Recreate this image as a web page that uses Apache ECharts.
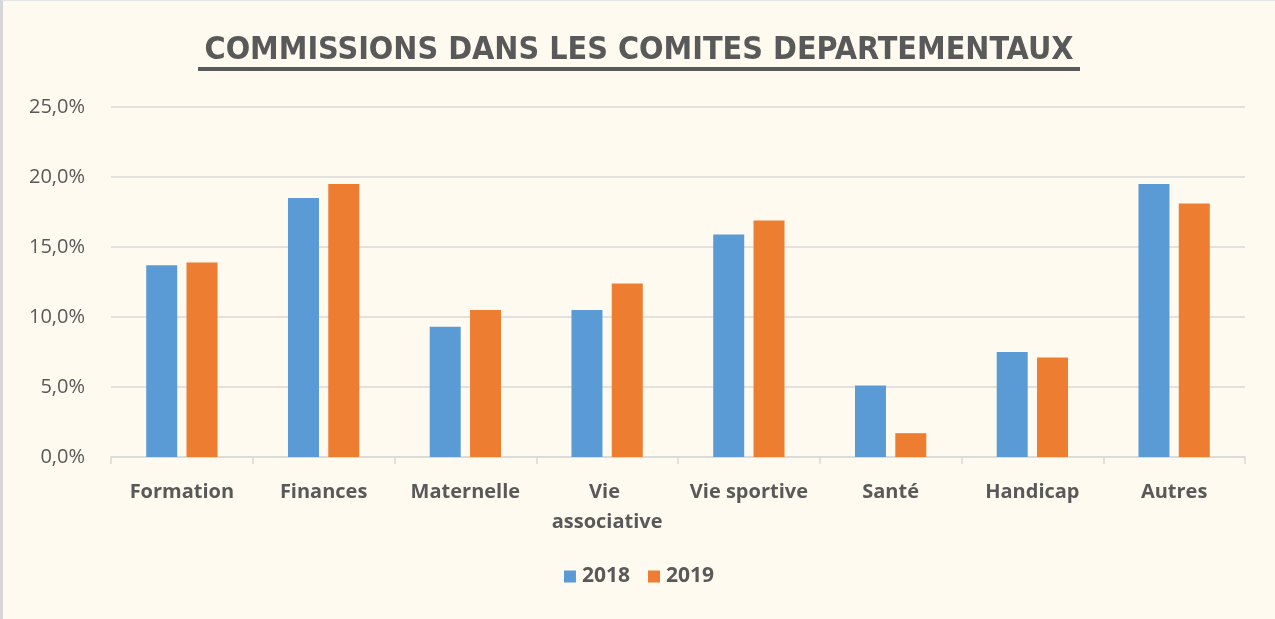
<!DOCTYPE html>
<html>
<head>
<meta charset="utf-8">
<script src="https://cdn.jsdelivr.net/npm/echarts@6/dist/echarts.min.js"></script>
<style>
  html, body { margin: 0; padding: 0; background: #fefaef; }
  #chart { width: 1275px; height: 619px; box-sizing: border-box; border-left: 3px solid #d6d6d6; border-top: 1px solid #e4e4e4; }
</style>
</head>
<body>
<div id="chart"></div>
<script>
const categories = ['Formation', 'Finances', 'Maternelle', 'Vie associative', 'Vie sportive', 'Santé', 'Handicap', 'Autres']
const values2018 = [13.7, 18.5, 9.3, 10.5, 15.9, 5.1, 7.5, 19.5]
const values2019 = [13.9, 19.5, 10.5, 12.4, 16.9, 1.7, 7.1, 18.1]
const yTicks = [0, 5, 10, 15, 20, 25]

const textColor = '#595959'
const gridColor = '#d9d9d9'
const font = '"Open Sans", Lato, sans-serif'

const chart = echarts.init(document.getElementById('chart'))
chart.setOption({
  backgroundColor: '#fefaef',
  textStyle: { fontFamily: font, color: textColor },
  title: {
    text: '{t|COMMISSIONS DANS LES COMITES DEPARTEMENTAUX}\n{u|}',
    left: 'center',
    top: 29,
    textStyle: {
      rich: {
        t: { fontFamily: '"DejaVu Sans Condensed", "DejaVu Sans", sans-serif', fontSize: 32, fontWeight: 'bold', color: textColor, lineHeight: 32 },
        u: { width: 882, height: 4, backgroundColor: textColor },
      },
    },
  },
  legend: {
    bottom: 27,
    left: 'center',
    itemWidth: 12,
    itemHeight: 12,
    itemGap: 18,
    icon: 'rect',
    textStyle: { fontFamily: font, fontSize: 21, fontWeight: 'bold', color: textColor, padding: [0, 0, 0, 1] },
    data: ['2018', '2019'],
  },
  grid: { left: 108, right: 30, top: 106, bottom: 162 },
  xAxis: {
    type: 'category',
    data: categories,
    axisLine: { lineStyle: { color: gridColor, width: 1.5 } },
    axisTick: { show: true, length: 7, lineStyle: { color: gridColor, width: 1.5 } },
    axisLabel: {
      interval: 0,
      margin: 20,
      fontSize: 20,
      fontWeight: 'bold',
      color: textColor,
      width: 136,
      overflow: 'break',
      lineHeight: 30,
    },
  },
  yAxis: {
    type: 'value',
    min: yTicks[0],
    max: yTicks[yTicks.length - 1],
    interval: 5,
    axisLine: { show: false },
    axisTick: { show: false },
    axisLabel: {
      margin: 26,
      fontSize: 20,
      color: textColor,
      formatter: (v) => v.toFixed(1).replace('.', ',') + '%',
    },
    splitLine: { lineStyle: { color: gridColor, width: 1.5 } },
  },
  series: [
    {
      name: '2018',
      type: 'bar',
      data: values2018,
      itemStyle: { color: '#5b9bd5' },
      barWidth: 31,
      barGap: '30%',
    },
    {
      name: '2019',
      type: 'bar',
      data: values2019,
      itemStyle: { color: '#ed7d31' },
      barWidth: 31,
      barGap: '30%',
    },
  ],
})
</script>
</body>
</html>
